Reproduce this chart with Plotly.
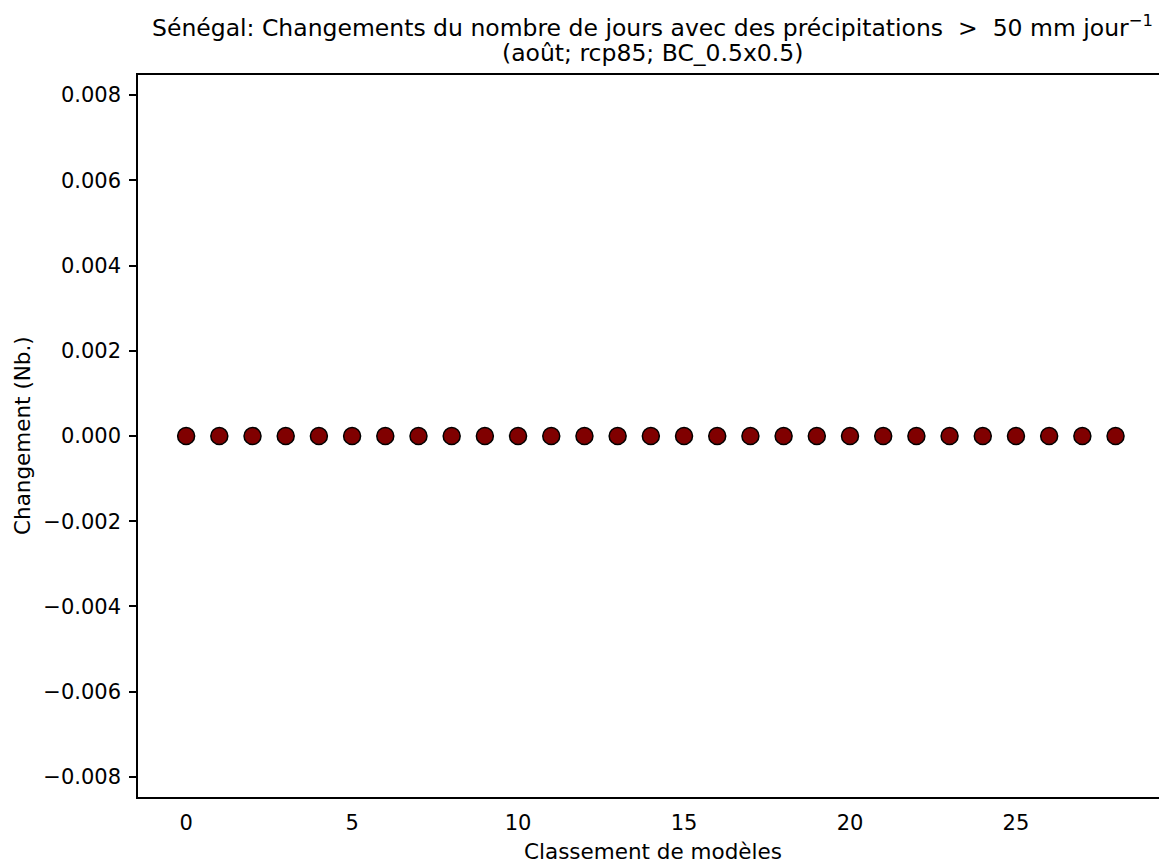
import plotly.graph_objects as go

models = list(range(29))
changes = [0.0] * 29

ytick_vals = [-0.008, -0.006, -0.004, -0.002, 0.0, 0.002, 0.004, 0.006, 0.008]
ytick_text = ["−0.008", "−0.006", "−0.004", "−0.002", "0.000", "0.002", "0.004", "0.006", "0.008"]
xtick_vals = [0, 5, 10, 15, 20, 25]

title_line1 = "Sénégal: Changements du nombre de jours avec des précipitations  >  50 mm jour<sup>−1</sup>"
title_line2 = "(août; rcp85; BC_0.5x0.5)"
xlabel = "Classement de modèles"
ylabel = "Changement (Nb.)"

font = "DejaVu Sans"

fig = go.Figure()
fig.add_trace(go.Scatter(
    x=models, y=changes, mode="markers",
    marker=dict(size=17, color="#800000", line=dict(color="black", width=1.5)),
    showlegend=False, cliponaxis=False,
))

fig.update_layout(
    width=1159, height=855,
    margin=dict(l=130, r=0, t=67, b=66),
    paper_bgcolor="white", plot_bgcolor="white",
    font=dict(family=font, size=21, color="black"),
    annotations=[
        dict(text=title_line1, x=0.5, y=1.0, xref="paper", yref="paper",
             yshift=49, showarrow=False, font=dict(size=23.5, family=font),
             xanchor="center", yanchor="middle"),
        dict(text=title_line2, x=0.5, y=1.0, xref="paper", yref="paper",
             yshift=22, showarrow=False, font=dict(size=23.5, family=font),
             xanchor="center", yanchor="middle"),
        dict(text=xlabel, x=0.5, y=0.0, xref="paper", yref="paper",
             yshift=-54, showarrow=False, font=dict(size=21.5, family=font),
             xanchor="center", yanchor="middle"),
        dict(text=ylabel, x=0.0, y=0.5, xref="paper", yref="paper",
             xshift=-116, textangle=-90, showarrow=False, font=dict(size=21.5, family=font),
             xanchor="center", yanchor="middle"),
    ],
)
fig.update_xaxes(
    range=[-1.45, 29.55], tickvals=xtick_vals, ticks="", showgrid=False, zeroline=False,
    showline=True, linecolor="black", linewidth=1.5, mirror=True,
    tickfont=dict(size=21), ticklabelstandoff=6,
)
fig.update_yaxes(
    range=[-0.00847, 0.00847], tickvals=ytick_vals, ticktext=ytick_text,
    ticks="outside", ticklen=7, tickwidth=1.5, tickcolor="black",
    showgrid=False, zeroline=False, showline=True, linecolor="black", linewidth=1.5,
    tickfont=dict(size=21), ticklabelstandoff=4,
)

fig.write_html("out.html")
